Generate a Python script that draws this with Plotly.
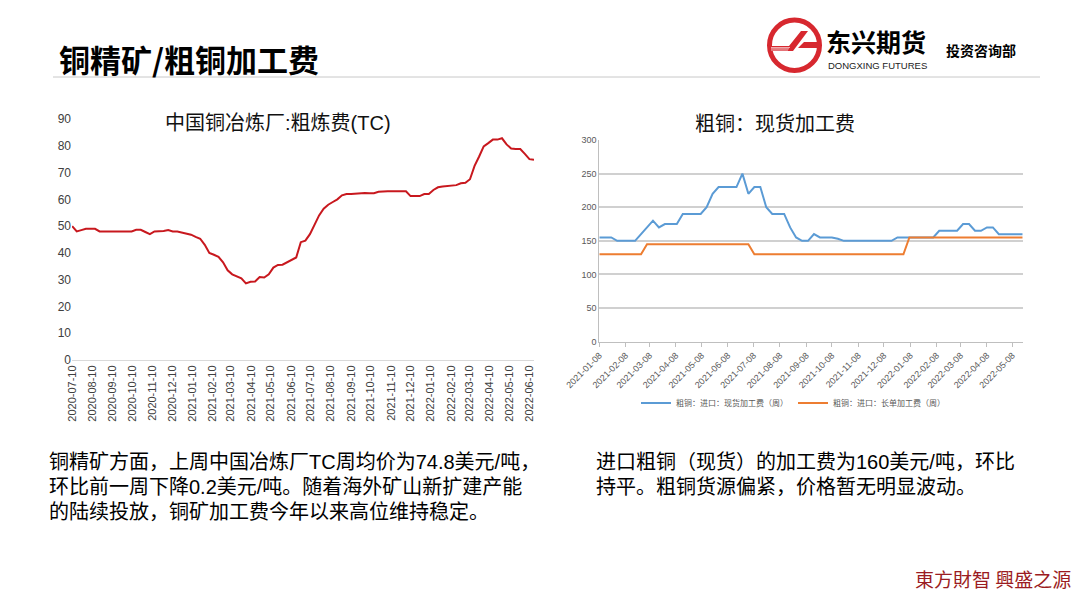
import plotly.graph_objects as go
import pandas as pd

W, H = 1080, 604

# ---------------- data ----------------
tc_dates = pd.date_range("2020-07-10", periods=102, freq="7D")
tc_values = [50, 48, 48.5, 49, 49, 49, 48, 48, 48, 48, 48, 48, 48, 48, 48.6, 48.6,
             47.8, 47, 48, 48, 48.2, 48.5, 48, 48, 47.6, 47.2, 46.8, 46, 45.3, 43,
             40, 39.3, 38.5, 36.5, 33.5, 32, 31.2, 30.5, 28.6, 29.2, 29.3, 31, 30.8,
             32, 34.5, 35.5, 35.6, 36.5, 37.5, 38.3, 44, 44.6, 47, 50.5, 54, 56.5, 58,
             59, 60, 61.5, 62, 62, 62.1, 62.4, 62.4, 62.3, 62.3, 62.8, 63, 63, 63, 63,
             63.1, 63, 61.2, 61.2, 61.2, 62, 62, 63.5, 64.5, 64.8, 64.9, 65.2, 65.3,
             66, 66.2, 67.5, 72.5, 76, 79.8, 81, 82.3, 82.3, 82.8, 80.5, 79, 78.8,
             78.8, 77, 75, 74.8]
tc_tick_dates = pd.date_range("2020-07-01", periods=24, freq="MS") + pd.Timedelta(days=9)
tc_tick_labels = [d.strftime("%Y-%m-%d") for d in tc_tick_dates]

blister_dates = pd.date_range("2021-01-08", periods=72, freq="7D")
spot_fee = [155, 155, 155, 150, 150, 150, 150, 160, 170, 180, 170, 175, 175, 175,
            190, 190, 190, 190, 200, 220, 230, 230, 230, 230, 250, 220, 230, 230,
            200, 190, 190, 190, 170, 155, 150, 150, 160, 155, 155, 155, 153, 150,
            150, 150, 150, 150, 150, 150, 150, 150, 155, 155, 155, 155, 155, 155,
            155, 165, 165, 165, 165, 175, 175, 165, 165, 170, 170, 160, 160, 160,
            160, 160]
long_fee = [130] * 8 + [145] * 18 + [130] * 26 + [155] * 20
bl_tick_dates = pd.date_range("2021-01-01", periods=17, freq="MS") + pd.Timedelta(days=7)
bl_tick_labels = [d.strftime("%Y-%m-%d") for d in bl_tick_dates]

spot_name = "粗铜：进口：现货加工费（周）"
long_name = "粗铜：进口：长单加工费（周）"

# ---------------- helpers ----------------
def px(x):
    return x / W

def py(y):
    return 1 - y / H

CJK = "Noto Sans CJK SC"
NUM = "Liberation Sans, Noto Sans CJK SC"

fig = go.Figure()

fig.add_trace(go.Scatter(x=tc_dates, y=tc_values, mode="lines",
                         line=dict(color="#C8181E", width=2),
                         xaxis="x", yaxis="y", showlegend=False))
fig.add_trace(go.Scatter(x=blister_dates, y=spot_fee, mode="lines", name=spot_name,
                         line=dict(color="#5B9BD5", width=2),
                         xaxis="x2", yaxis="y2"))
fig.add_trace(go.Scatter(x=blister_dates, y=long_fee, mode="lines", name=long_name,
                         line=dict(color="#ED7D31", width=2),
                         xaxis="x2", yaxis="y2"))

fig.update_layout(
    width=W, height=H, autosize=False,
    margin=dict(l=0, r=0, t=0, b=0),
    paper_bgcolor="white", plot_bgcolor="white",
    font=dict(family=NUM, color="#404040"),
    xaxis=dict(domain=[px(72), px(534)], type="date",
               range=["2020-07-09 18:00", "2022-06-17"],
               tickvals=list(tc_tick_dates), ticktext=tc_tick_labels,
               tickangle=-90, tickfont=dict(size=11, color="#404040"),
               showgrid=False, zeroline=False, showline=True,
               linecolor="#D9D9D9", linewidth=1, ticks="", automargin=False),
    yaxis=dict(domain=[py(360), py(119)], range=[0, 90],
               tickvals=list(range(0, 91, 10)),
               tickfont=dict(size=12, color="#404040"),
               showgrid=False, zeroline=False, showline=False, ticks="",
               automargin=False),
    xaxis2=dict(domain=[px(599.3), px(1022.7)], type="date", anchor="y2",
                range=["2021-01-08", "2022-05-20"],
                tickvals=list(bl_tick_dates), ticktext=bl_tick_labels,
                tickangle=-45, tickfont=dict(size=9, color="#595959"),
                showgrid=False, zeroline=False, showline=True,
                linecolor="#BFBFBF", linewidth=1, ticks="outside",
                ticklen=4, tickcolor="#BFBFBF", automargin=False),
    yaxis2=dict(domain=[py(341.7), py(140)], anchor="x2", range=[0, 300],
                tickvals=list(range(0, 301, 50)),
                tickfont=dict(size=9, color="#595959"),
                showgrid=True, gridcolor="#D0D0D0", gridwidth=1.5,
                zeroline=False, showline=True, linecolor="#BFBFBF",
                linewidth=1, ticks="", automargin=False),
    legend=dict(orientation="h", x=px(793), xanchor="center",
                y=py(403), yanchor="middle",
                font=dict(size=8, color="#595959", family=CJK),
                bgcolor="rgba(0,0,0,0)", itemwidth=30),
)

ann = []
def text(x, y, s, size, color="#000000", family=CJK, anchor="left", bold=False):
    ann.append(dict(x=px(x), y=py(y), xref="paper", yref="paper", text=s,
                    showarrow=False, xanchor=anchor, yanchor="middle",
                    font=dict(size=size, color=color, family=family,
                              weight="bold" if bold else "normal")))

text(57, 58, "铜精矿/粗铜加工费", 31, bold=True)
text(278, 123, "中国铜冶炼厂:粗炼费(TC)", 20, color="#111111", family=NUM, anchor="center")
text(775, 123, "粗铜：现货加工费", 20, color="#111111", anchor="center")

text(47, 462, "铜精矿方面，上周中国冶炼厂TC周均价为74.8美元/吨，", 20, family=NUM)
text(47, 487, "环比前一周下降0.2美元/吨。随着海外矿山新扩建产能", 20, family=NUM)
text(47, 512, "的陆续投放，铜矿加工费今年以来高位维持稳定。", 20, family=NUM)
text(594, 462, "进口粗铜（现货）的加工费为160美元/吨，环比", 20, family=NUM)
text(594, 487, "持平。粗铜货源偏紧，价格暂无明显波动。", 20, family=NUM)

text(824, 41, "东兴期货", 25, bold=True)
text(826, 65, "DONGXING FUTURES", 9.5, color="#222222", family="Liberation Sans")
text(944, 50, "投资咨询部", 14, bold=True)
text(1073, 578, "東方財智 興盛之源", 19, color="#9B1C22", family="Noto Sans CJK TC", anchor="right")

fig.update_layout(annotations=ann)

shapes = [
    dict(type="line", xref="paper", yref="paper", x0=px(53), x1=px(1040),
         y0=py(77), y1=py(77), line=dict(color="#C8C8C8", width=1)),
    dict(type="circle", xref="paper", yref="paper", x0=px(769.5), x1=px(819.5),
         y0=py(70.5), y1=py(20), line=dict(color="#D7282F", width=5)),
    dict(type="path", xref="paper", yref="paper",
         path=f"M {px(770)},{py(46)} L {px(789)},{py(46)} L {px(801)},{py(31)} "
              f"L {px(808)},{py(31)} L {px(793)},{py(51)} L {px(770)},{py(51)} Z",
         fillcolor="#D7282F", line=dict(width=0)),
    dict(type="path", xref="paper", yref="paper",
         path=f"M {px(804)},{py(42)} L {px(819)},{py(42)} L {px(819)},{py(48)} "
              f"L {px(798)},{py(48)} Z",
         fillcolor="#D7282F", line=dict(width=0)),
]
for k in range(3):
    yy = 47.5 + k * 1.3
    shapes.append(dict(type="line", xref="paper", yref="paper",
                       x0=px(771), x1=px(790 - k), y0=py(yy), y1=py(yy),
                       line=dict(color="white", width=0.6)))
fig.update_layout(shapes=shapes)

fig.write_html(
    "out.html",
    config={"displayModeBar": False},
    post_script="document.body.style.margin='0';document.body.style.padding='0';"
                "document.body.style.overflow='hidden';",
)
